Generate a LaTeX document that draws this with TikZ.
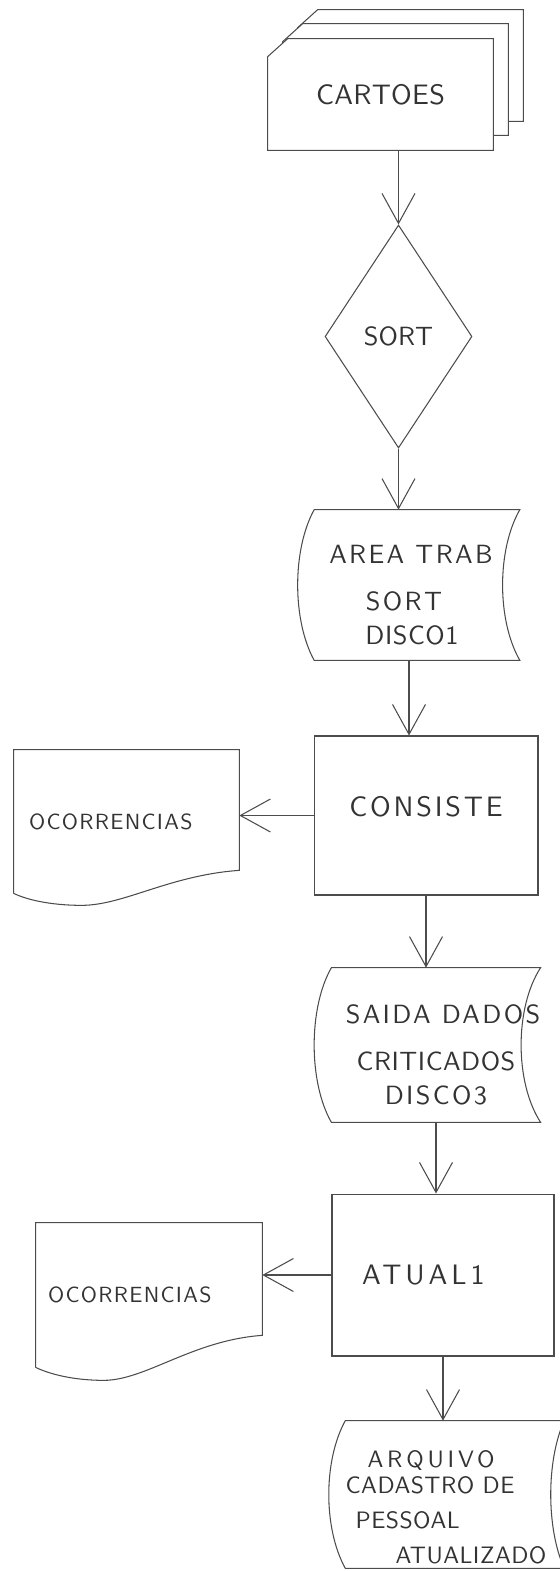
\documentclass[tikz,border=0pt]{standalone}
\usepackage{fontspec}
\setsansfont{lmsans10-regular.otf}
\usepackage{tikz}
\usetikzlibrary{arrows.meta,calc,shapes.geometric,backgrounds}
\tikzset{linha/.style={draw=black!70, line width=0.6pt},
	seta/.style={linha, -{Straight Barb[length=0.6cm, width=0.66cm]}},
	letra/.style n args={3}{font=\sffamily\fontsize{#1}{#2}\selectfont\addfontfeatures{LetterSpace=#3}},
	texto/.style={letra={16}{19}{1}, text=black!80, inner sep=0pt},
	caixa/.style={texto, linha, rectangle, minimum width=4.48cm, minimum height=3.18cm},
	losango/.style={texto, linha, diamond, letra={15}{19}{0}, minimum width=2.94cm, minimum height=4.46cm},
	fitatxt/.style={texto, align=center, letra={15}{19}{9}},
	folhatxt/.style={texto, align=left, letra={12.5}{15}{6}}}
\newcommand{\alto}[1]{\rule{0pt}{#1}}
\newcommand{\vazio}[1]{\rule{#1}{0pt}}
\newcommand{\cartao}[2]{\filldraw[linha, fill=white] ($(cartoes.south west)+(#1,#2)$) -- ($(cartoes.north west)+(#1,#2)+(0,18)$) -- ($(cartoes.north west)+(#1,#2)+(20,0)$) -- ($(cartoes.north east)+(#1,#2)$) -- ($(cartoes.south east)+(#1,#2)$) -- cycle;}
\newcommand{\fita}[3]{\draw[linha] (#1.north west) -- (#1.north east)
	.. controls ($(#1.north east)+(-#3,40)$) and ($(#1.south east)+(-#3,-40)$) .. (#1.south east)
	-- (#1.south west)
	.. controls ($(#1.south west)+(-#2,-40)$) and ($(#1.north west)+(-#2,40)$) .. cycle;}
\newcommand{\folha}[3]{\draw[linha] (#1.south west) -- (#1.north west) -- (#1.north east) -- ($(#1.south east)+(0,-#2)$)
	.. controls ($(#1.south east)+(-70,-#2+5)$) and ($(#1.south west)+(110,#3)$) .. ($(#1.south west)+(68,#3)$)
	.. controls ($(#1.south west)+(36,#3)$) and ($(#1.south west)+(12,6)$) .. (#1.south west);}
\begin{document}
\begin{tikzpicture}[x=0.02cm, y=-0.02cm]

	\useasboundingbox (0,0) rectangle (559,1571);

	\node[texto, minimum width=4.5cm, minimum height=2.22cm] (cartoes) at (380.5,94.5) {CARTOES};
	\begin{scope}[on background layer]
		\cartao{30}{-29}
		\cartao{15}{-15}
		\cartao{0}{0}
	\end{scope}

	\node[losango] (sort) at (398.5,336.5) {SORT};

	\node[fitatxt, minimum width=4.1cm, minimum height=3cm] (areatrab) at (417,585) {\alto{0.76cm}AREA TRAB\vazio{0.24cm}\\[8pt] SORT\vazio{0.52cm}\\ {\addfontfeatures{LetterSpace=2}DISCO1}\vazio{0.2cm}};
	\fita{areatrab}{22}{23}

	\node[caixa, letra={16}{19}{10}] (consiste) at (426,815.5) {\rule[-0.36cm]{0pt}{0.36cm}CONSISTE};

	\node[folhatxt, minimum width=4.5cm, minimum height=2.86cm, text width=3.9cm, inner xsep=0.3cm] (ocorr1) at (126.5,821.5) {OCORRENCIAS};
	\folha{ocorr1}{23}{12}

	\node[fitatxt, minimum width=4.14cm, minimum height=3.08cm] (saida) at (436,1045) {\alto{0.76cm}\vazio{0.28cm}SAIDA DADOS\\[8pt] {\addfontfeatures{LetterSpace=2}CRITICADOS}\\ DISCO3};
	\fita{saida}{23}{26}

	\node[caixa, letra={16}{19}{14}, minimum width=4.44cm, minimum height=3.24cm, text width=3.24cm, align=left, inner xsep=0.6cm] (atual) at (443,1275) {ATUAL1};

	\node[folhatxt, minimum width=4.52cm, minimum height=2.88cm, text width=4.04cm, inner xsep=0.24cm] (ocorr2) at (149,1295) {OCORRENCIAS};
	\folha{ocorr2}{32}{13}

	\node[fitatxt, align=left, letra={13.5}{20}{2}, minimum width=4.13cm, minimum height=2.94cm] (arquivo) at (454.75,1494.5) {\alto{0.85cm}\vazio{0.44cm}{\addfontfeatures{LetterSpace=16}ARQUIVO}\\[-5pt] CADASTRO DE\\ \vazio{0.2cm}PESSOAL\\ \vazio{1cm}ATUALIZADO\vazio{0.35cm}};
	\fita{arquivo}{22}{18}

	\draw[seta] (sort.north |- cartoes.south) -- (sort.north);
	\draw[seta] (sort.south) -- (sort.south |- areatrab.north);
	\draw[seta] ($(areatrab.south)+(-8,0)$) -- ($(areatrab.south |- consiste.north)+(-8,0)$);
	\draw[seta] (consiste.south) -- (consiste.south |- saida.north);
	\draw[seta] (saida.south) -- (saida.south |- atual.north);
	\draw[seta] (atual.south) -- (atual.south |- arquivo.north);
	\draw[seta] (consiste.west) -- (consiste.west -| ocorr1.east);
	\draw[seta] (atual.west) -- (atual.west -| ocorr2.east);

\end{tikzpicture}
\end{document}
